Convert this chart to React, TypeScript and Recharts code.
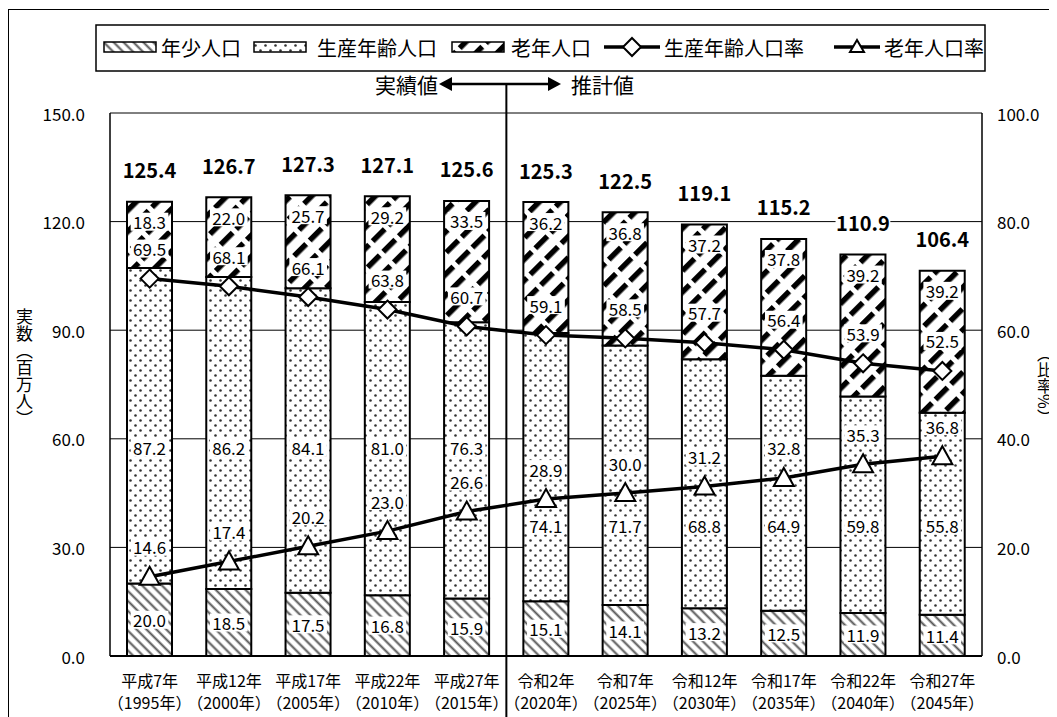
import React from 'react';
import { ComposedChart, Bar, Line, XAxis, YAxis, CartesianGrid, LabelList } from 'recharts';

const categories = ['平成7年', '平成12年', '平成17年', '平成22年', '平成27年', '令和2年', '令和7年', '令和12年', '令和17年', '令和22年', '令和27年'];
const yearLabels = ['（1995年）', '（2000年）', '（2005年）', '（2010年）', '（2015年）', '（2020年）', '（2025年）', '（2030年）', '（2035年）', '（2040年）', '（2045年）'];
const youngPop = [20.0, 18.5, 17.5, 16.8, 15.9, 15.1, 14.1, 13.2, 12.5, 11.9, 11.4];
const workPop = [87.2, 86.2, 84.1, 81.0, 76.3, 74.1, 71.7, 68.8, 64.9, 59.8, 55.8];
const oldPop = [18.3, 22.0, 25.7, 29.2, 33.5, 36.2, 36.8, 37.2, 37.8, 39.2, 39.2];
const totalPop = [125.4, 126.7, 127.3, 127.1, 125.6, 125.3, 122.5, 119.1, 115.2, 110.9, 106.4];
const workRate = [69.5, 68.1, 66.1, 63.8, 60.7, 59.1, 58.5, 57.7, 56.4, 53.9, 52.5];
const oldRate = [14.6, 17.4, 20.2, 23.0, 26.6, 28.9, 30.0, 31.2, 32.8, 35.3, 36.8];
const leftTicks = [0, 30, 60, 90, 120, 150];
const rightTicks = [0, 20, 40, 60, 80, 100];
const leftTitle = '実数（百万人）';
const rightTitle = '（比率%）';
const ACTUAL_COUNT = 5;

const data = categories.map((c, i) => ({
  name: c,
  year: yearLabels[i],
  young: youngPop[i],
  work: workPop[i],
  old: oldPop[i],
  total: totalPop[i],
  workRate: workRate[i],
  oldRate: oldRate[i],
}));

const FONT = '"Noto Sans CJK JP", "Noto Sans", sans-serif';
const CHART_W = 1049;
const CHART_H = 709;
const PLOT_L = 102;
const PLOT_T = 105;
const PLOT_R = 974;
const PLOT_B = 648;
const AXIS_W = 60;
const XAXIS_H = 55;

const fmt = (v: number) => v.toFixed(1);

function textW(s: string, fs: number) {
  let w = 0;
  for (const ch of s) w += ch === '.' ? fs * 0.3 : fs * 0.56;
  return w;
}

function Boxed({ cx, cy, text, fs = 17, bold = false }: any) {
  const w = textW(text, fs) + 4;
  const h = fs + 1;
  return (
    <g>
      <rect x={cx - w / 2} y={cy - h / 2} width={w} height={h} fill="#fff" />
      <text x={cx} y={cy} textAnchor="middle" dominantBaseline="central" fontSize={fs} fontFamily={FONT} fontWeight={bold ? 700 : 400} fill="#000">
        {text}
      </text>
    </g>
  );
}

function geom(p: any) {
  const vb = p.viewBox || {};
  return {
    x: p.x ?? vb.x,
    y: p.y ?? vb.y,
    width: p.width ?? vb.width ?? 0,
    height: p.height ?? vb.height ?? 0,
  };
}

const YoungLabel = (p: any) => {
  const g = geom(p);
  return <Boxed cx={g.x + g.width / 2} cy={g.y + g.height / 2} text={fmt(Number(p.value))} />;
};

const WorkLabel = (p: any) => {
  const g = geom(p);
  const i = p.index;
  const unit = g.height / workPop[i];
  const zero = g.y + g.height + youngPop[i] * unit;
  const anchor = i < ACTUAL_COUNT ? 57.5 : 36;
  return <Boxed cx={g.x + g.width / 2} cy={zero - anchor * unit} text={fmt(Number(p.value))} />;
};

const OldLabel = (p: any) => {
  const g = geom(p);
  return (
    <g>
      <Boxed cx={g.x + g.width / 2} cy={g.y + 20} text={fmt(Number(p.value))} />
      <Boxed cx={g.x + g.width / 2} cy={g.y - 32} text={fmt(totalPop[p.index])} fs={20} bold />
    </g>
  );
};

const RateLabel = (p: any) => {
  const g = geom(p);
  return <Boxed cx={g.x} cy={g.y - 30} text={fmt(Number(p.value))} />;
};

const Diamond = (p: any) => {
  const { cx, cy } = p;
  if (cx == null || cy == null) return null;
  const r = 9;
  return <polygon points={`${cx},${cy - r} ${cx + r},${cy} ${cx},${cy + r} ${cx - r},${cy}`} fill="#fff" stroke="#000" strokeWidth={2} />;
};

const Triangle = (p: any) => {
  const { cx, cy } = p;
  if (cx == null || cy == null) return null;
  return <polygon points={`${cx},${cy - 10} ${cx + 10},${cy + 8} ${cx - 10},${cy + 8}`} fill="#fff" stroke="#000" strokeWidth={2} />;
};

const XTick = (p: any) => {
  const { x, y, payload } = p;
  const i = payload.index;
  return (
    <g>
      <text x={x} y={y + 24} textAnchor="middle" dominantBaseline="central" fontSize={16} fontFamily={FONT} fill="#000">{categories[i]}</text>
      <text x={x} y={y + 46} textAnchor="middle" dominantBaseline="central" fontSize={16} fontFamily={FONT} fill="#000">{yearLabels[i]}</text>
    </g>
  );
};

const LeftTick = (p: any) => (
  <text x={p.x} y={p.y} textAnchor="end" dominantBaseline="central" fontSize={17} fontFamily={FONT} fill="#000">{fmt(Number(p.payload.value))}</text>
);
const RightTick = (p: any) => (
  <text x={p.x} y={p.y} textAnchor="start" dominantBaseline="central" fontSize={17} fontFamily={FONT} fill="#000">{fmt(Number(p.payload.value))}</text>
);

function Patterns() {
  return (
    <svg width={0} height={0} style={{ position: 'absolute' }}>
      <defs>
        <pattern id="pYoung" width={7} height={7} patternUnits="userSpaceOnUse" patternTransform="rotate(-45)">
          <rect width={7} height={7} fill="#fff" />
          <line x1={1.5} y1={0} x2={1.5} y2={7} stroke="#555" strokeWidth={2} />
        </pattern>
        <pattern id="pWork" width={10} height={10} patternUnits="userSpaceOnUse">
          <rect width={10} height={10} fill="#fff" />
          <circle cx={2.5} cy={2.5} r={1.3} fill="#333" />
          <circle cx={7.5} cy={7.5} r={1.3} fill="#333" />
        </pattern>
        <pattern id="pOld" width={15} height={22} patternUnits="userSpaceOnUse" patternTransform="rotate(45)">
          <rect width={15} height={22} fill="#fff" />
          <rect x={0} y={0} width={5.5} height={17} fill="#000" />
        </pattern>
      </defs>
    </svg>
  );
}

function Legend() {
  const items: any[] = [
    { kind: 'bar', fill: 'url(#pYoung)', label: '年少人口', sx: 96, tx: 153 },
    { kind: 'bar', fill: 'url(#pWork)', label: '生産年齢人口', sx: 246, tx: 309 },
    { kind: 'bar', fill: 'url(#pOld)', label: '老年人口', sx: 444, tx: 503 },
    { kind: 'diamond', label: '生産年齢人口率', sx: 596, tx: 656 },
    { kind: 'tri', label: '老年人口率', sx: 826, tx: 876 },
  ];
  const cy = 39;
  return (
    <svg width={CHART_W} height={80} style={{ position: 'absolute', left: 0, top: 0 }}>
      <rect x={88} y={17} width={889} height={46} fill="#fff" stroke="#000" strokeWidth={1.5} />
      {items.map((it, k) => (
        <g key={k}>
          {it.kind === 'bar' && <rect x={it.sx} y={cy - 5} width={52} height={10} fill={it.fill} stroke="#000" strokeWidth={1.5} />}
          {it.kind === 'diamond' && (
            <g>
              <line x1={it.sx} y1={cy} x2={it.sx + 56} y2={cy} stroke="#000" strokeWidth={3.5} />
              <Diamond cx={it.sx + 28} cy={cy} />
            </g>
          )}
          {it.kind === 'tri' && (
            <g>
              <line x1={it.sx} y1={cy} x2={it.sx + 46} y2={cy} stroke="#000" strokeWidth={3.5} />
              <polygon points={`${it.sx + 23},${cy - 7} ${it.sx + 30},${cy + 5} ${it.sx + 16},${cy + 5}`} fill="#fff" stroke="#000" strokeWidth={2} />
            </g>
          )}
          <text x={it.tx} y={cy} dominantBaseline="central" fontSize={20} fontFamily={FONT} fill="#000">{it.label}</text>
        </g>
      ))}
    </svg>
  );
}

function Overlay() {
  const sepX = PLOT_L + (ACTUAL_COUNT * (PLOT_R - PLOT_L)) / categories.length;
  const ay = 76;
  return (
    <svg width={CHART_W} height={CHART_H} style={{ position: 'absolute', left: 0, top: 0, pointerEvents: 'none' }}>
      <line x1={sepX} y1={ay} x2={sepX} y2={CHART_H} stroke="#000" strokeWidth={2} />
      <line x1={440} y1={ay} x2={545} y2={ay} stroke="#000" strokeWidth={2.5} />
      <polygon points={`${431},${ay} ${444},${ay - 7} ${444},${ay + 7}`} fill="#000" />
      <polygon points={`${553},${ay} ${540},${ay - 7} ${540},${ay + 7}`} fill="#000" />
      <text x={430} y={ay} textAnchor="end" dominantBaseline="central" fontSize={21} fontFamily={FONT} fill="#000">実績値</text>
      <text x={563} y={ay} textAnchor="start" dominantBaseline="central" fontSize={21} fontFamily={FONT} fill="#000">推計値</text>
    </svg>
  );
}

export default function App() {
  return (
    <div style={{ position: 'relative', width: CHART_W, height: CHART_H, fontFamily: FONT, overflow: 'hidden' }}>
      <Patterns />
      <div style={{ position: 'absolute', left: 0, top: 1, width: CHART_W, height: CHART_H, borderLeft: '1.5px solid #000', borderTop: '1.5px solid #000', boxSizing: 'border-box' }} />
      <ComposedChart
        width={CHART_W}
        height={CHART_H}
        data={data}
        margin={{ top: PLOT_T, left: PLOT_L - AXIS_W, right: CHART_W - PLOT_R - AXIS_W, bottom: CHART_H - PLOT_B - XAXIS_H }}
        barGap={0}
      >
        <CartesianGrid yAxisId="left" vertical={false} horizontal stroke="#000" strokeWidth={1} />
        <XAxis dataKey="name" height={XAXIS_H} tick={<XTick />} tickLine={false} tickSize={0} tickMargin={0} axisLine={{ stroke: '#000', strokeWidth: 2 }} interval={0} />
        <YAxis yAxisId="left" width={AXIS_W} domain={[0, 150]} ticks={leftTicks} tick={<LeftTick />} tickLine={false} tickSize={0} tickMargin={25} axisLine={{ stroke: '#000', strokeWidth: 1.5 }} allowDataOverflow />
        <YAxis yAxisId="right" orientation="right" width={AXIS_W} domain={[0, 100]} ticks={rightTicks} tick={<RightTick />} tickLine={false} tickSize={0} tickMargin={15} axisLine={{ stroke: '#000', strokeWidth: 1.5 }} allowDataOverflow />
        <Bar yAxisId="left" dataKey="young" stackId="a" barSize={45} fill="url(#pYoung)" stroke="#000" strokeWidth={2} isAnimationActive={false}>
          <LabelList dataKey="young" content={<YoungLabel />} />
        </Bar>
        <Bar yAxisId="left" dataKey="work" stackId="a" barSize={45} fill="url(#pWork)" stroke="#000" strokeWidth={2} isAnimationActive={false}>
          <LabelList dataKey="work" content={<WorkLabel />} />
        </Bar>
        <Bar yAxisId="left" dataKey="old" stackId="a" barSize={45} fill="url(#pOld)" stroke="#000" strokeWidth={2} isAnimationActive={false}>
          <LabelList dataKey="old" content={<OldLabel />} />
        </Bar>
        <Line yAxisId="right" dataKey="workRate" stroke="#000" strokeWidth={3.5} dot={<Diamond />} activeDot={false} isAnimationActive={false}>
          <LabelList dataKey="workRate" content={<RateLabel />} />
        </Line>
        <Line yAxisId="right" dataKey="oldRate" stroke="#000" strokeWidth={3.5} dot={<Triangle />} activeDot={false} isAnimationActive={false}>
          <LabelList dataKey="oldRate" content={<RateLabel />} />
        </Line>
      </ComposedChart>
      <Legend />
      <Overlay />
      <div style={{ position: 'absolute', left: 6, top: 300, writingMode: 'vertical-rl', fontSize: 17, lineHeight: '20px', fontFamily: FONT, color: '#000' }}>{leftTitle}</div>
      <div style={{ position: 'absolute', left: 1027, top: 338, writingMode: 'vertical-rl', fontSize: 16, lineHeight: '19px', fontFamily: FONT, color: '#000' }}>{rightTitle}</div>
    </div>
  );
}
